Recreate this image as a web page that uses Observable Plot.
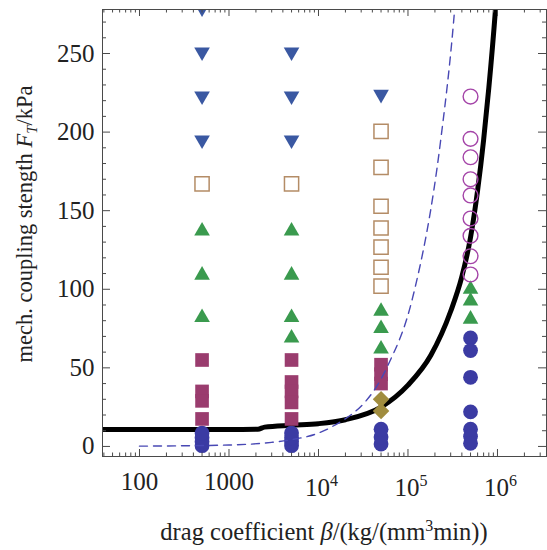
<!DOCTYPE html>
<html><head><meta charset="utf-8">
<script src="https://cdn.jsdelivr.net/npm/d3@7"></script>
<script src="https://cdn.jsdelivr.net/npm/@observablehq/plot@0.6"></script>
<style>body{margin:0;background:#fff} svg{display:block}</style>
</head><body><div id="chart"></div>
<script>
// ---- data ----
const downTriBeta = [500, 500, 500, 500, 5000, 5000, 5000, 50000];
const downTriF    = [279, 251, 223, 195, 251, 223, 195, 224];

const openSqBeta = [500, 5000, 50000, 50000, 50000, 50000, 50000, 50000, 50000];
const openSqF    = [167, 167, 200.5, 177.6, 152.8, 139, 126.8, 114, 102];

const greenTriBeta = [500, 500, 500, 5000, 5000, 5000, 5000, 50000, 50000, 50000, 500000, 500000, 500000];
const greenTriF    = [137, 109, 82, 137, 109, 82, 69, 86, 75, 62, 100, 92.5, 81];

const purpleSqBeta = [500, 500, 500, 500, 5000, 5000, 5000, 5000, 5000, 50000, 50000, 50000];
const purpleSqF    = [55, 35, 29, 17.5, 55, 41, 35, 28, 17.5, 52, 46, 40];

const diamondBeta = [50000, 50000];
const diamondF    = [30, 22.5];

const blueCircBeta = [500, 500, 500, 500, 5000, 5000, 5000, 5000, 50000, 50000, 50000,
                      500000, 500000, 500000, 500000, 500000, 500000, 500000];
const blueCircF    = [0.5, 3, 5.5, 8.5, 0.5, 3, 5.5, 8.5, 1.5, 6, 11,
                      69, 61, 44, 22, 11, 6.4, 2];

const openCircBeta = [500000, 500000, 500000, 500000, 500000, 500000, 500000, 500000, 500000];
const openCircF    = [222.6, 195.7, 184, 170, 159.7, 145, 134, 121, 109.4];

const solidBeta = [38.6, 100, 1000, 2100, 2500, 5000, 10000, 20000, 50000, 100000, 180000, 300000, 400000, 500000, 600000, 700000, 800000, 950000, 1100000];
const solidF    = [10.8, 10.8, 10.8, 11.0, 12.3, 13.5, 14.5, 17, 25, 39, 58, 86, 108, 133, 163, 195, 228, 278, 330];

const dashBeta = [100, 1000, 3000, 5000, 10000, 13600, 59000, 112000, 231000, 322000, 340000];
const dashF    = [0.2, 0.9, 2.6, 4.3, 8.5, 12, 51, 94, 194, 269, 285];

// ticks
const yMajor = [0, 50, 100, 150, 200, 250];
const yMinor = [10, 20, 30, 40, 60, 70, 80, 90, 110, 120, 130, 140, 160, 170, 180, 190, 210, 220, 230, 240, 260, 270];
const xMajor = [100, 1000, 10000, 100000, 1000000];
const xMinor = [40, 50, 60, 70, 80, 90,
  200, 300, 400, 500, 600, 700, 800, 900,
  2000, 3000, 4000, 5000, 6000, 7000, 8000, 9000,
  20000, 30000, 40000, 50000, 60000, 70000, 80000, 90000,
  200000, 300000, 400000, 500000, 600000, 700000, 800000, 900000,
  2000000, 3000000];
const xPlainLabels = [{v: 100, t: "100"}, {v: 1000, t: "1000"}];
const xPowLabels = [{v: 10000, b: "10", e: "4"}, {v: 100000, b: "10", e: "5"}, {v: 1000000, b: "10", e: "6"}];

// ---- build tables ----
const zip = (xs, ys) => xs.map((x, i) => ({x, y: ys[i]}));
const W = 547, H = 550, ML = 102, MR = 1, MT = 9, MB = 94;
const PW = W - ML - MR, PH = H - MT - MB;
const axisColor = "#4a4a4a";
const font = "Liberation Serif, Times New Roman, serif";
const TF = 25;

const chart = Plot.plot({
  width: W, height: H,
  marginLeft: ML, marginRight: MR, marginTop: MT, marginBottom: MB,
  x: {type: "log", domain: [38.6, 3.53e6], axis: null},
  y: {domain: [-6.4, 278], axis: null},
  style: {fontFamily: font, background: "white"},
  marks: [
    // black solid curve
    Plot.line(zip(solidBeta, solidF), {x: "x", y: "y", curve: "monotone-x", stroke: "black", strokeWidth: 5, clip: true}),
    // markers
    Plot.dot(zip(blueCircBeta, blueCircF), {x: "x", y: "y", r: 7.4, fill: "#3b3ba3", stroke: "none", clip: true}),
    Plot.dot(zip(purpleSqBeta, purpleSqF), {x: "x", y: "y", symbol: "square", r: 7.7, fill: "#9a3c6e", stroke: "none", clip: true}),
    Plot.dot(zip(diamondBeta, diamondF), {x: "x", y: "y", symbol: "square", rotate: 45, r: 6.6, fill: "#a08c3e", stroke: "none", clip: true}),
    Plot.dot(zip(greenTriBeta, greenTriF), {x: "x", y: "y", symbol: "triangle", r: 5.8, fill: "#3a9a4e", stroke: "none", clip: true}),
    Plot.dot(zip(openSqBeta, openSqF), {x: "x", y: "y", symbol: "square", r: 8.0, fill: "none", stroke: "#b48c66", strokeWidth: 1.5, clip: true}),
    Plot.dot(zip(downTriBeta, downTriF), {x: "x", y: "y", symbol: "triangle", rotate: 180, r: 5.8, fill: "#3a58a2", stroke: "none", clip: true}),
    Plot.dot(zip(openCircBeta, openCircF), {x: "x", y: "y", r: 7.4, fill: "none", stroke: "#a444a8", strokeWidth: 1.4, clip: true}),
    // dashed curve
    Plot.line(zip(dashBeta, dashF), {x: "x", y: "y", curve: "monotone-x", stroke: "#4848b4", strokeWidth: 1.4, strokeDasharray: "8,6", clip: true}),
    // frame & ticks
    Plot.frame({stroke: axisColor, strokeWidth: 1}),
    Plot.tickY(yMajor, {y: d => d, insetRight: PW - 8, stroke: axisColor}),
    Plot.tickY(yMinor, {y: d => d, insetRight: PW - 4, stroke: axisColor}),
    Plot.tickY(yMajor, {y: d => d, insetLeft: PW - 8, stroke: axisColor}),
    Plot.tickY(yMinor, {y: d => d, insetLeft: PW - 4, stroke: axisColor}),
    Plot.tickX(xMajor, {x: d => d, insetTop: PH - 7, stroke: axisColor}),
    Plot.tickX(xMinor, {x: d => d, insetTop: PH - 3.5, stroke: axisColor}),
    Plot.tickX(xMajor, {x: d => d, insetBottom: PH - 7, stroke: axisColor}),
    Plot.tickX(xMinor, {x: d => d, insetBottom: PH - 3.5, stroke: axisColor}),
    // tick labels
    Plot.text(yMajor, {y: d => d, text: d => String(d), frameAnchor: "left", dx: -8, textAnchor: "end", fontSize: TF, fill: "#222"}),
    Plot.text(xPlainLabels, {x: "v", text: "t", frameAnchor: "bottom", lineAnchor: "top", dy: 15.5, fontSize: TF, fill: "#222"}),
    Plot.text(xPowLabels, {x: "v", text: "b", frameAnchor: "bottom", lineAnchor: "top", textAnchor: "end", dx: 11.5, dy: 21.5, fontSize: TF, fill: "#222"}),
    Plot.text(xPowLabels, {x: "v", text: "e", frameAnchor: "bottom", lineAnchor: "top", textAnchor: "start", dx: 11.5, dy: 18, fontSize: 16, fill: "#222"})
  ]
});

document.getElementById("chart").appendChild(chart);

// axis titles with italic / super- and subscripts
const svg = d3.select(chart);
const xt = svg.append("text")
  .attr("x", ML + PW / 2).attr("y", 540)
  .attr("text-anchor", "middle").attr("font-size", 24.5).attr("fill", "#222")
  .attr("font-family", font);
xt.append("tspan").text("drag coefficient ");
xt.append("tspan").attr("font-style", "italic").text("β");
xt.append("tspan").text("/(kg/(mm");
xt.append("tspan").attr("font-size", 16).attr("dy", -9).text("3");
xt.append("tspan").attr("dy", 9).text("min))");

const yt = svg.append("text")
  .attr("transform", `translate(32,224) rotate(-90)`)
  .attr("text-anchor", "middle").attr("font-size", 22.5).attr("fill", "#222")
  .attr("font-family", font);
yt.append("tspan").text("mech. coupling stength ");
yt.append("tspan").attr("font-style", "italic").text("F");
yt.append("tspan").attr("font-style", "italic").attr("font-size", 15).attr("dy", 5).text("T");
yt.append("tspan").attr("dy", -5).text("/kPa");
</script>
</body></html>
